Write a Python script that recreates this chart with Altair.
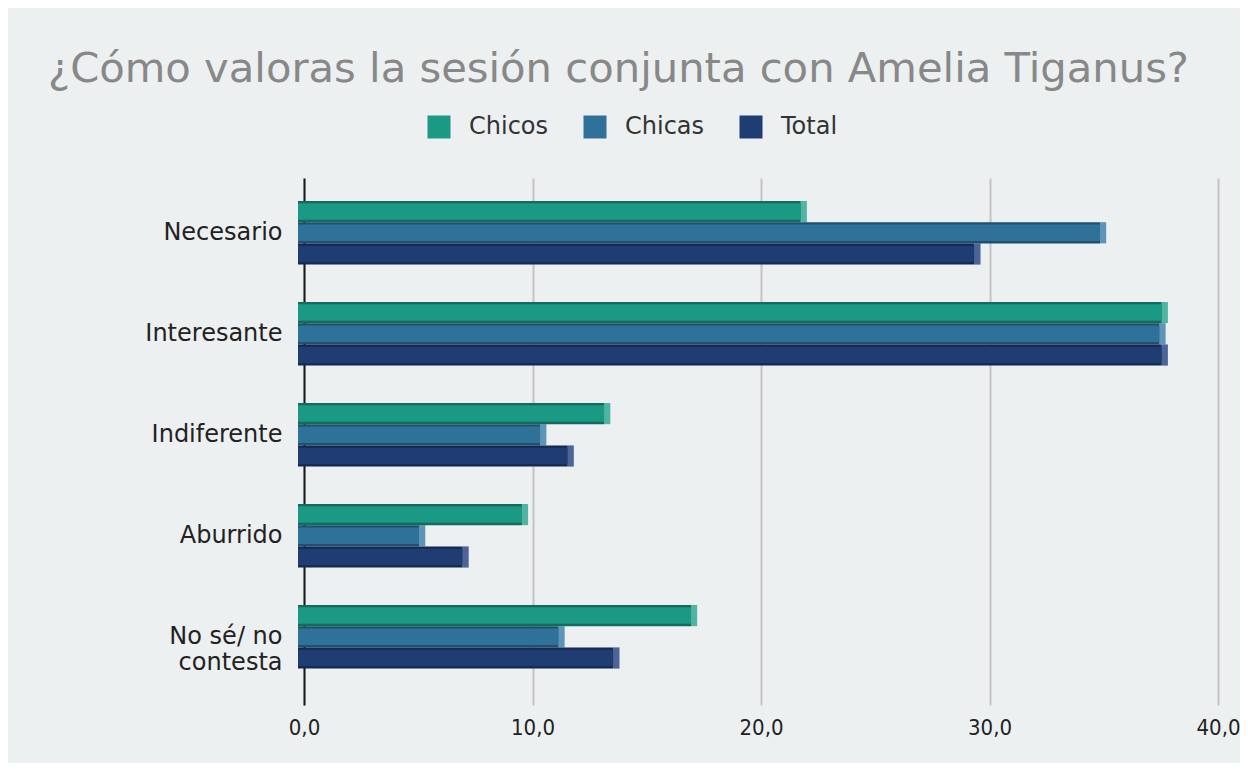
import altair as alt
import pandas as pd

categories = ["Necesario", "Interesante", "Indiferente", "Aburrido", "No sé/ no contesta"]
series = ["Chicos", "Chicas", "Total"]
chicos = [22.0, 37.8, 13.4, 9.8, 17.2]
chicas = [35.1, 37.7, 10.6, 5.3, 11.4]
total = [29.6, 37.8, 11.8, 7.2, 13.8]

main_colors = ["#1a9985", "#2e7299", "#1f3d73"]
shadow_colors = ["#166a5b", "#224f6b", "#15284d"]
cap_colors = ["#4fb5a2", "#5d95b9", "#4c6497"]

rows = []
for s, vals, mc, sc, cc in zip(series, [chicos, chicas, total], main_colors, shadow_colors, cap_colors):
    for c, v in zip(categories, vals):
        rows.append({"cat": c, "series": s, "value": v, "zero": 0, "shadow": sc, "cap": cc})
df = pd.DataFrame(rows)

y_enc = alt.Y("cat:N", sort=categories,
              scale=alt.Scale(paddingInner=0.37, paddingOuter=0.294, align=0.387),
              axis=alt.Axis(title=None, domain=True, domainColor="#1a1a1a", domainWidth=2,
                            ticks=False, grid=False, labelPadding=22, labelFontSize=24,
                            labelColor="#222222", labelFont="DejaVu Sans", labelLimit=0,
                            labelLineHeight=26,
                            labelExpr="datum.value == 'No sé/ no contesta' ? ['No sé/ no', 'contesta'] : datum.value"))
yoff = alt.YOffset("series:N", sort=series, scale=alt.Scale(paddingInner=0, paddingOuter=0))
x_scale = alt.Scale(domain=[0, 40], nice=False)
x_axis = alt.Axis(title=None, values=[0, 10, 20, 30, 40], domain=False, ticks=False,
                  grid=True, gridColor="#c4c4c4", gridWidth=2, labelFlush=False,
                  labelFontSize=22, labelFont="'DejaVu Sans Condensed', 'DejaVu Sans'",
                  labelColor="#222222", labelPadding=12,
                  labelExpr="replace(format(datum.value, '.1f'), '.', ',')")

base = alt.Chart(df)

cap = base.transform_calculate(cap_end="datum.value + 0.27").mark_bar(xOffset=-6, x2Offset=-6).encode(
    x=alt.X("value:Q", scale=x_scale, axis=x_axis),
    x2="cap_end:Q",
    y=y_enc, yOffset=yoff,
    color=alt.Color("cap:N", scale=None),
)

shadow = base.mark_bar(xOffset=-6, x2Offset=-6).encode(
    x=alt.X("value:Q", scale=x_scale, axis=x_axis),
    x2="zero:Q",
    y=y_enc, yOffset=yoff,
    color=alt.Color("shadow:N", scale=None),
)

main = base.mark_bar(xOffset=-6, x2Offset=-6, height=16.5, yOffset=-2.4).encode(
    x=alt.X("value:Q", scale=x_scale, axis=x_axis),
    x2="zero:Q",
    y=y_enc, yOffset=yoff,
    color=alt.Color("series:N", sort=series,
                    scale=alt.Scale(domain=series, range=main_colors),
                    legend=alt.Legend(title=None, orient="none", legendX=123, legendY=-63,
                                      direction="horizontal", symbolType="square",
                                      symbolSize=529, symbolStrokeWidth=0, symbolOpacity=1,
                                      labelFontSize=24, labelFont="DejaVu Sans",
                                      labelColor="#333333", labelOffset=18, columnPadding=34)),
)

chart = alt.layer(cap, shadow, main).properties(
    width=914, height=527,
    title=alt.TitleParams("¿Cómo valoras la sesión conjunta con Amelia Tiganus?",
                          anchor="start", frame="group", dx=-256, offset=24,
                          fontSize=41.7, font="DejaVu Sans", fontWeight="normal", color="#888888"),
    autosize=alt.AutoSizeParams(type="none"),
    padding={"left": 296, "top": 170, "right": 22, "bottom": 58},
    background="#edf0f1",
).configure_view(stroke=None)

chart.save("out.html", embed_options={"renderer": "svg", "actions": False})
